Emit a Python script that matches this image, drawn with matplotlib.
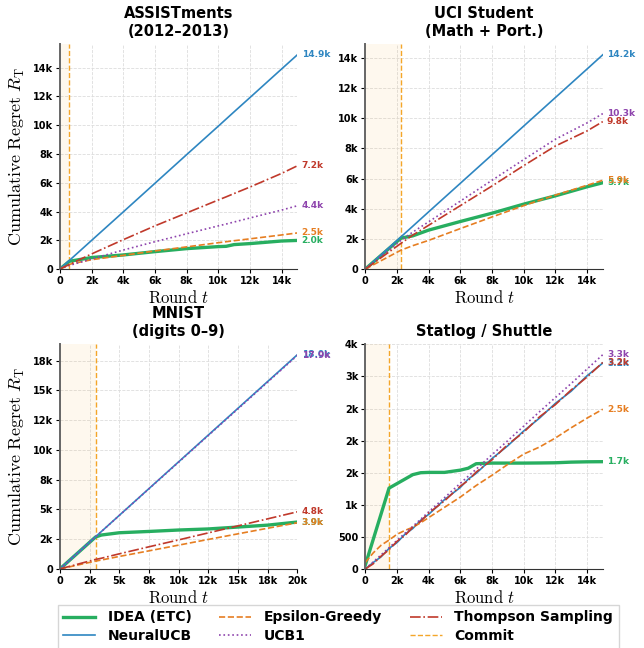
import matplotlib
matplotlib.use("Agg")
import matplotlib.pyplot as plt
from matplotlib.ticker import MultipleLocator, FuncFormatter

plt.rcParams['mathtext.fontset'] = 'cm'
plt.rcParams['font.family'] = ['DejaVu Sans']

# ---- data ----
series_names = ["IDEA (ETC)", "NeuralUCB", "Epsilon-Greedy", "UCB1", "Thompson Sampling"]

# ASSISTments (2012-2013)
as_t = [0, 600, 2000, 4000, 6000, 8000, 10000, 10500, 11000, 12000, 14000, 15000]
as_idea = [0, 540, 800, 980, 1210, 1420, 1560, 1580, 1700, 1770, 1950, 1990]
as_neural = [0, 600, 1990, 3970, 5960, 7950, 9930, 10430, 10930, 11920, 13910, 14900]
as_eps = [0, 330, 650, 950, 1260, 1540, 1830, 1900, 1970, 2100, 2370, 2510]
as_ucb = [0, 250, 700, 1320, 1900, 2450, 3000, 3130, 3270, 3550, 4100, 4400]
as_ts = [0, 320, 1050, 2040, 3000, 3900, 4800, 5020, 5250, 5700, 6650, 7180]
as_commit = 600

# UCI Student (Math + Port.)
uci_t = [0, 2250, 3000, 4000, 6000, 8000, 10000, 12000, 14000, 15000]
uci_idea = [0, 2050, 2200, 2580, 3150, 3700, 4300, 4850, 5450, 5720]
uci_neural = [0, 2130, 2840, 3790, 5680, 7570, 9470, 11360, 13250, 14200]
uci_eps = [0, 1250, 1550, 1900, 2680, 3450, 4200, 4900, 5550, 5880]
uci_ucb = [0, 1900, 2450, 3130, 4500, 5880, 7250, 8600, 9680, 10300]
uci_ts = [0, 1700, 2250, 2900, 4200, 5500, 6850, 8150, 9150, 9770]
uci_commit = 2250

# MNIST (digits 0-9)
mn_t = [0, 3000, 3500, 5000, 7500, 10000, 12500, 15000, 17500, 20000]
mn_idea = [0, 2680, 2850, 3040, 3150, 3270, 3360, 3520, 3680, 3940]
mn_neural = [0, 2700, 3150, 4500, 6750, 9000, 11250, 13500, 15750, 18000]
mn_eps = [0, 660, 750, 1050, 1520, 2000, 2480, 2950, 3420, 3880]
mn_ucb = [0, 2690, 3140, 4490, 6730, 8970, 11210, 13450, 15700, 17940]
mn_ts = [0, 800, 900, 1270, 1860, 2440, 3030, 3620, 4210, 4800]
mn_commit = 3000

# Statlog / Shuttle
st_t = [0, 500, 1000, 1500, 2000, 2500, 3000, 3500, 4000, 5000, 6000, 6500, 7000,
        8000, 9000, 10000, 11000, 12000, 13000, 14000, 15000]
st_idea = [60, 460, 860, 1260, 1330, 1400, 1470, 1500, 1505, 1505, 1540, 1570, 1640,
           1650, 1650, 1650, 1652, 1655, 1665, 1670, 1672]
st_neural = [0, 100, 190, 320, 410, 540, 630, 760, 850, 1080, 1270, 1400, 1490,
             1720, 1920, 2150, 2350, 2580, 2770, 3010, 3210]
st_eps = [100, 250, 370, 450, 540, 600, 650, 720, 800, 960, 1120, 1210, 1300,
          1460, 1630, 1790, 1900, 2040, 2200, 2350, 2490]
st_ucb = [0, 110, 220, 330, 445, 555, 665, 775, 890, 1110, 1335, 1445, 1555,
          1780, 2000, 2225, 2450, 2670, 2890, 3115, 3340]
st_ts = [0, 80, 200, 300, 430, 520, 650, 740, 870, 1060, 1290, 1380, 1510,
         1700, 1940, 2130, 2370, 2560, 2790, 2990, 3220]
st_commit = 1500

colors = ['#27ae60', '#2e86c1', '#e67e22', '#8e44ad', '#c0392b']
styles = ['-', '-', '--', ':', '-.']
widths = [2.4, 1.2, 1.2, 1.2, 1.2]
commit_color = '#f39c12'


def kfmt(x, pos):
    if x >= 1000:
        return f'{x/1000:.0f}k'
    return f'{x:.0f}'


def draw_panel(ax, title, t, curves, commit, xstep, ystep, ylabel=False):
    ax.axvspan(0, commit, color=commit_color, alpha=0.07, lw=0)
    ax.axvline(commit, color=commit_color, ls='--', lw=1.0, alpha=0.9, label='Commit')
    for name, y, c, ls, lw in zip(series_names, curves, colors, styles, widths):
        ax.plot(t, y, color=c, ls=ls, lw=lw, label=name)
    for y, c in zip(curves, colors):
        ax.annotate(f'{y[-1]/1000:.1f}k', xy=(t[-1], y[-1]), xytext=(3, 0),
                    textcoords='offset points', color=c, fontsize=6.5,
                    fontweight='bold', va='center', ha='left', annotation_clip=False)
    ymax = max(max(y) for y in curves) * 1.05
    ax.set_xlim(0, t[-1])
    ax.set_ylim(0, ymax)
    ax.xaxis.set_major_locator(MultipleLocator(xstep))
    ax.yaxis.set_major_locator(MultipleLocator(ystep))
    ax.xaxis.set_major_formatter(FuncFormatter(kfmt))
    ax.yaxis.set_major_formatter(FuncFormatter(kfmt))
    ax.grid(True, ls='--', lw=0.6, color='#dddddd')
    ax.set_axisbelow(True)
    for s in ['top', 'right']:
        ax.spines[s].set_visible(False)
    ax.spines['left'].set_color('#666666')
    ax.spines['left'].set_linewidth(1.4)
    ax.spines['bottom'].set_color('#333333')
    ax.tick_params(labelsize=7, length=3, pad=2)
    for lab in ax.get_xticklabels() + ax.get_yticklabels():
        lab.set_fontweight('bold')
    ax.set_title(title, fontsize=10.5, fontweight='bold', pad=6)
    ax.set_xlabel(r'$\mathrm{Round}\ t$', fontsize=12, labelpad=2)
    if ylabel:
        ax.set_ylabel(r'$\mathrm{Cumulative\ Regret}\ R_{\mathrm{T}}$', fontsize=13, labelpad=4)


fig, axes = plt.subplots(2, 2, figsize=(6.44, 6.48), dpi=100)
plt.subplots_adjust(left=0.093, right=0.936, top=0.932, bottom=0.122, wspace=0.286, hspace=0.333)

draw_panel(axes[0, 0], "ASSISTments\n(2012–2013)", as_t,
           [as_idea, as_neural, as_eps, as_ucb, as_ts], as_commit, 2000, 2000, ylabel=True)
draw_panel(axes[0, 1], "UCI Student\n(Math + Port.)", uci_t,
           [uci_idea, uci_neural, uci_eps, uci_ucb, uci_ts], uci_commit, 2000, 2000)
draw_panel(axes[1, 0], "MNIST\n(digits 0–9)", mn_t,
           [mn_idea, mn_neural, mn_eps, mn_ucb, mn_ts], mn_commit, 2500, 2500, ylabel=True)
draw_panel(axes[1, 1], "Statlog / Shuttle", st_t,
           [st_idea, st_neural, st_eps, st_ucb, st_ts], st_commit, 2000, 500)

handles, labels = axes[0, 0].get_legend_handles_labels()
order = [1, 2, 3, 4, 5, 0]
leg = fig.legend([handles[i] for i in order], [labels[i] for i in order],
                 loc='lower center', bbox_to_anchor=(0.525, -0.012), ncol=3,
                 prop={'weight': 'bold', 'size': 10}, frameon=True, fancybox=False,
                 edgecolor='#cccccc', borderpad=0.4, labelspacing=0.35, columnspacing=2.0,
                 handletextpad=0.9, handlelength=2.3)

fig.savefig('out.png', dpi=100)
